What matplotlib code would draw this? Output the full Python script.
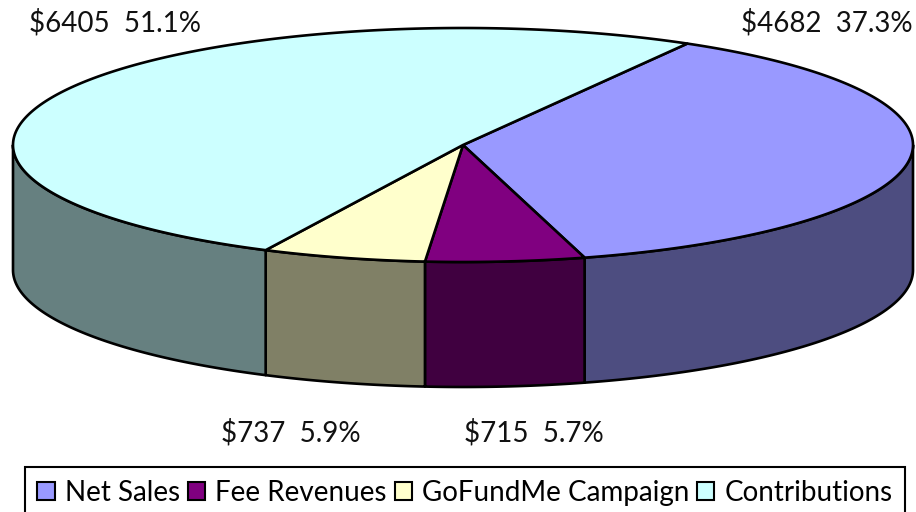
import numpy as np
import matplotlib
matplotlib.use("Agg")
import matplotlib.pyplot as plt
from matplotlib.patches import Patch

plt.rcParams['font.family'] = ['Lato', 'DejaVu Sans']

# DATA
categories = ['Net Sales', 'Fee Revenues', 'GoFundMe Campaign', 'Contributions']
amounts = [4682, 715, 737, 6405]
percent_labels = ['37.3%', '5.7%', '5.9%', '51.1%']

top_colors = ['#9999FF', '#800080', '#FFFFCC', '#CCFFFF']
wall_colors = ['#4D4D80', '#400040', '#808066', '#668080']

# pie geometry, in pixels of the 916x512 picture
cx, cy = 463, 145
rx, ry = 450, 117
depth = 125
start_angle = 60.1  # first slice starts here and runs clockwise

fig = plt.figure(figsize=(9.16, 5.12), dpi=100)
ax = fig.add_axes([0, 0, 1, 1])
ax.set_xlim(0, 916)
ax.set_ylim(512, 0)
ax.axis('off')


def rim(a0, a1, dy=0):
    t = np.radians(np.linspace(a0, a1, 200))
    return cx + rx * np.cos(t), cy - ry * np.sin(t) + dy


sweeps = 360 * np.array(amounts) / sum(amounts)
ends = start_angle - np.cumsum(sweeps)
starts = ends + sweeps

# walls, only the front half of the rim shows
for a0, a1, color in zip(starts, ends, wall_colors):
    # front half is 180..360 degrees, same as -180..0
    for shift in (0, -360):
        lo = max(a1 + shift, -180)
        hi = min(a0 + shift, 0)
        if hi <= lo:
            continue
        x, y = rim(hi, lo)
        xs = np.concatenate([x, x[::-1]])
        ys = np.concatenate([y, (y + depth)[::-1]])
        ax.fill(xs, ys, facecolor=color, edgecolor='black', lw=1.9, joinstyle='round', zorder=2)

# top face
for a0, a1, color in zip(starts, ends, top_colors):
    x, y = rim(a0, a1)
    xs = np.concatenate([[cx], x])
    ys = np.concatenate([[cy], y])
    ax.fill(xs, ys, facecolor=color, edgecolor='black', lw=1.9, joinstyle='round', zorder=3)

# value labels
label_pos = [(827, 23), (534, 433), (291, 433), (115, 23)]
for amount, pct, (lx, ly) in zip(amounts, percent_labels, label_pos):
    ax.text(lx, ly, f"${amount}  {pct}", fontsize=20, color='#111111',
            ha='center', va='center', zorder=5, clip_on=False)

# legend, its bottom edge runs off the picture like the original
handles = [Patch(facecolor=c, edgecolor='black', lw=1.5) for c in top_colors]
leg = ax.legend(handles, categories, loc='center', bbox_to_anchor=(465 / 916, 1 - 493 / 512),
                ncol=4, fontsize=20, frameon=True, fancybox=False, edgecolor='black',
                framealpha=1, handlelength=0.62, handleheight=0.62, handletextpad=0.36,
                columnspacing=0.29, borderpad=0.46, borderaxespad=0)
leg.get_frame().set_linewidth(1.5)

fig.savefig('out.png', dpi=100)
